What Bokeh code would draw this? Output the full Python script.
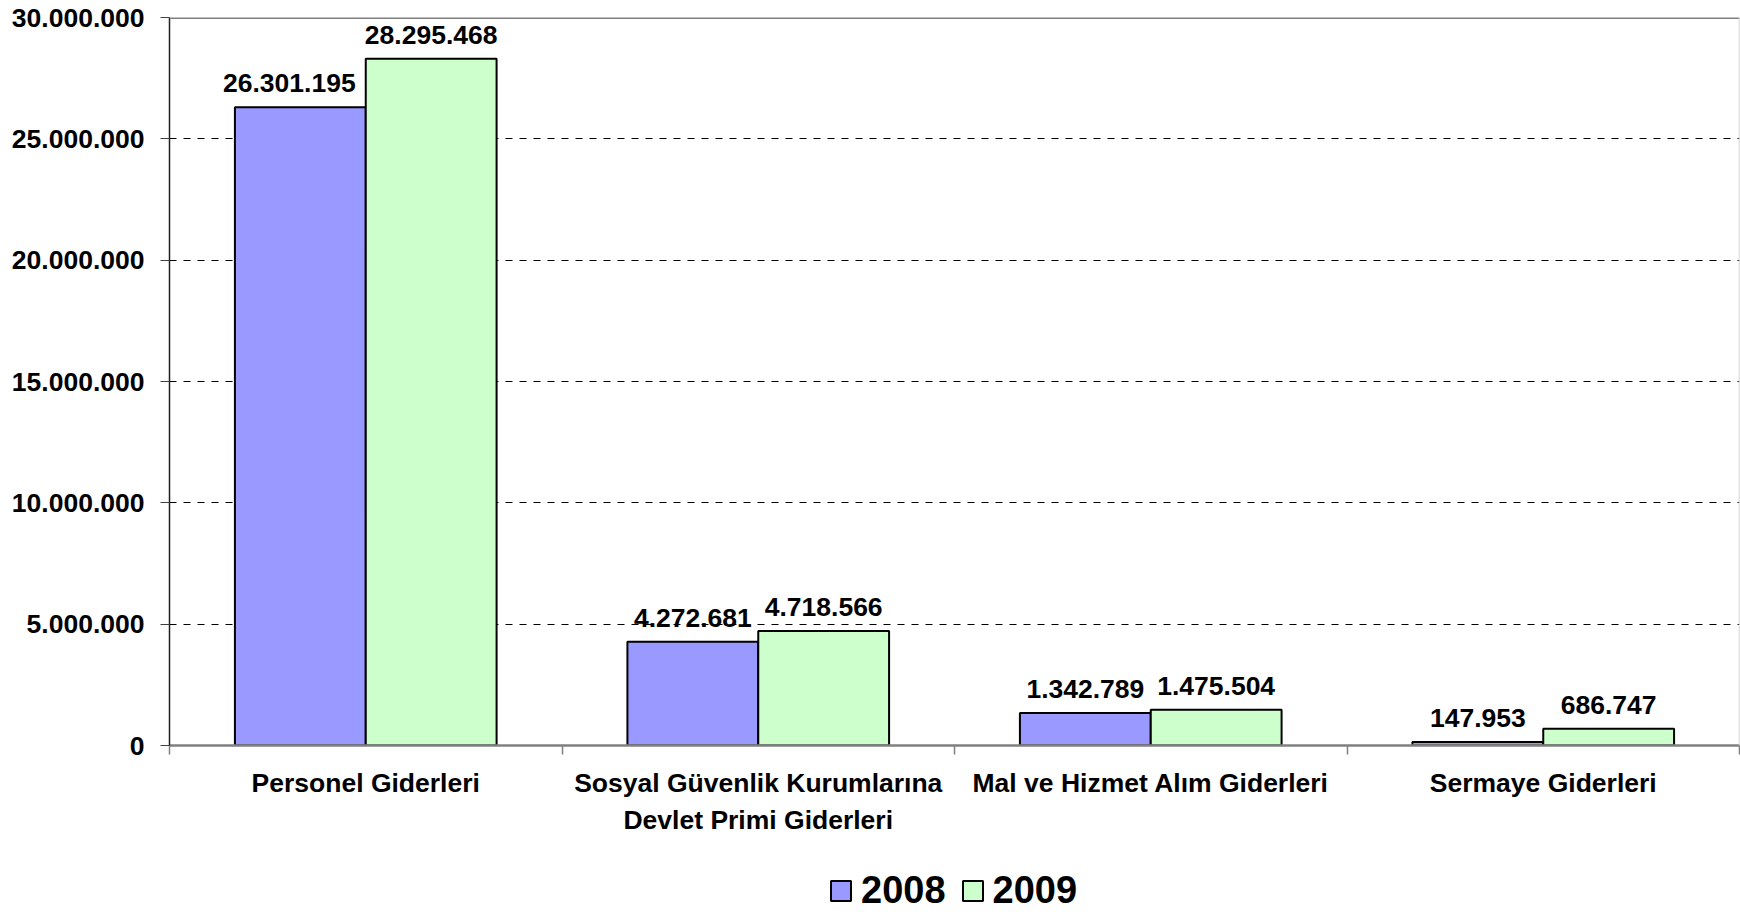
from bokeh.plotting import figure
from bokeh.layouts import column
from bokeh.models import ColumnDataSource, FixedTicker, Span, Legend, LegendItem, Range1d
from bokeh.embed import file_html
from bokeh.resources import INLINE
from bokeh.core.properties import value

# ---- data ----
categories = [
    "Personel Giderleri",
    "Sosyal Güvenlik Kurumlarına\nDevlet Primi Giderleri",
    "Mal ve Hizmet Alım Giderleri",
    "Sermaye Giderleri",
]
series_names = ["2008", "2009"]
values_2008 = [26301195, 4272681, 1342789, 147953]
values_2009 = [28295468, 4718566, 1475504, 686747]
y_ticks = [0, 5000000, 10000000, 15000000, 20000000, 25000000, 30000000]
y_tick_labels = ["0", "5.000.000", "10.000.000", "15.000.000", "20.000.000", "25.000.000", "30.000.000"]

colors = ["#9999FF", "#CCFFCC"]
FONT = "Liberation Sans"
FS = "26.5px"


def fmt(v):
    return f"{v:,}".replace(",", ".")


n = len(categories)
bar_w = 1.0 / 3.0
idx = list(range(n))

# a wide 2008 label next to a clearly taller 2009 bar is nudged left (as in the original)
nudge08 = [-11 if (len(fmt(a)) >= 10 and b > a) else 0 for a, b in zip(values_2008, values_2009)]

src08 = ColumnDataSource(dict(
    x=[i + 1.0 / 3.0 for i in idx], top=values_2008,
    label=[fmt(v) for v in values_2008], dx=nudge08))
src09 = ColumnDataSource(dict(
    x=[i + 2.0 / 3.0 for i in idx], top=values_2009,
    label=[fmt(v) for v in values_2009], dx=[0] * n))

W = 1740
H_MAIN = 860
H_LEG = 52
FRAME_LEFT = 169

p = figure(width=W, height=H_MAIN, output_backend="svg", toolbar_location=None,
           x_range=Range1d(0, n), y_range=Range1d(0, y_ticks[-1]),
           min_border_left=FRAME_LEFT, min_border_right=1, min_border_top=17,
           min_border_bottom=H_MAIN - 745)
p.outline_line_color = None
p.background_fill_color = "white"
p.border_fill_color = "white"

r1 = p.vbar(x="x", top="top", width=bar_w, source=src08, fill_color=colors[0],
            line_color="black", line_width=2)
r2 = p.vbar(x="x", top="top", width=bar_w, source=src09, fill_color=colors[1],
            line_color="black", line_width=2)

for s in (src08, src09):
    p.text(x="x", y="top", text="label", source=s, x_offset="dx", text_align="center",
           text_baseline="bottom", y_offset=-15, text_font=value(FONT),
           text_font_style="bold", text_font_size=FS, text_color="black")

# grid
p.xgrid.visible = False
p.ygrid.ticker = FixedTicker(ticks=y_ticks)
p.ygrid.grid_line_color = "black"
p.ygrid.grid_line_dash = "7 7"
p.ygrid.grid_line_width = 1

# y axis
p.yaxis.ticker = FixedTicker(ticks=y_ticks, minor_ticks=[])
p.yaxis.major_label_overrides = {t: l for t, l in zip(y_ticks, y_tick_labels)}
p.yaxis.major_tick_out = 9
p.yaxis.major_tick_in = 0
p.yaxis.major_tick_line_color = "#404040"
p.yaxis.axis_line_color = "#202020"
p.yaxis.axis_line_width = 1.5
p.yaxis.major_label_standoff = 16
p.yaxis.major_label_text_font = FONT
p.yaxis.major_label_text_font_style = "bold"
p.yaxis.major_label_text_font_size = FS
p.yaxis.major_label_text_color = "black"

# x axis
centers = [i + 0.5 for i in idx]
bounds = [float(i) for i in range(n + 1)]
p.xaxis.ticker = FixedTicker(ticks=centers, minor_ticks=bounds)
p.xaxis.major_label_overrides = {c: cat for c, cat in zip(centers, categories)}
p.xaxis.major_tick_out = 0
p.xaxis.major_tick_in = 0
p.xaxis.minor_tick_out = 9
p.xaxis.minor_tick_in = 0
p.xaxis.minor_tick_line_color = "#808080"
p.xaxis.minor_tick_line_width = 1.5
p.xaxis.axis_line_color = "#808080"
p.xaxis.axis_line_width = 2.5
p.xaxis.major_label_standoff = 13
p.xaxis.major_label_text_font = FONT
p.xaxis.major_label_text_font_style = "bold"
p.xaxis.major_label_text_font_size = FS
p.xaxis.major_label_text_color = "black"
p.xaxis.major_label_text_line_height = 1.24

# frame borders
p.add_layout(Span(location=y_ticks[-1], dimension="width", line_color="#808080", line_width=3))
p.add_layout(Span(location=n, dimension="height", line_color="#c8c8c8", line_width=1.5))

# ---- legend strip ----
pl = figure(width=W, height=H_LEG, output_backend="svg", toolbar_location=None,
            x_range=Range1d(0, 1), y_range=Range1d(0, 1),
            min_border=0, min_border_left=0, min_border_right=0,
            min_border_top=0, min_border_bottom=0)
pl.axis.visible = False
pl.grid.visible = False
pl.outline_line_color = None
pl.background_fill_color = "white"
pl.border_fill_color = "white"
# legend swatches reuse the series sources; the renderers themselves stay hidden here
lr1 = pl.vbar(x="x", top="top", width=bar_w, source=src08, fill_color=colors[0],
              line_color="black", line_width=2, visible=False)
lr2 = pl.vbar(x="x", top="top", width=bar_w, source=src09, fill_color=colors[1],
              line_color="black", line_width=2, visible=False)

legend = Legend(items=[LegendItem(label=series_names[0], renderers=[lr1]),
                       LegendItem(label=series_names[1], renderers=[lr2])],
                orientation="horizontal", location=(828 - FRAME_LEFT, 0),
                glyph_width=25, glyph_height=25, label_standoff=8, spacing=14,
                padding=0, margin=0, border_line_color=None, background_fill_alpha=0,
                label_text_font=FONT, label_text_font_style="bold",
                label_text_font_size="38px", label_text_color="black")
pl.add_layout(legend)

layout = column(p, pl, spacing=0)
open("out.html", "w").write(file_html(layout, INLINE))
